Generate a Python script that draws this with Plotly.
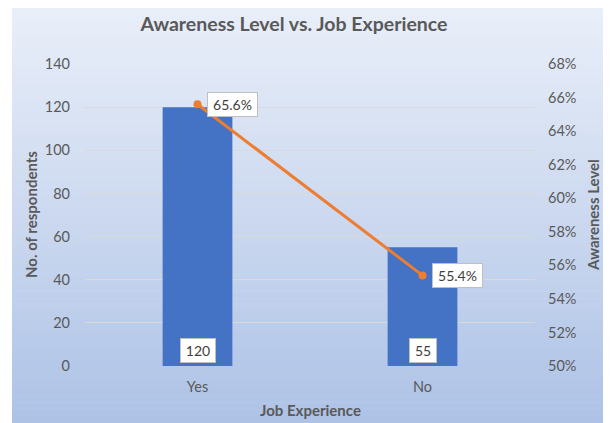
import plotly.graph_objects as go

# data
categories = ['Yes', 'No']
respondents = [120, 55]
awareness = [0.656, 0.554]

# the page body adds an 8px margin, so the figure is drawn 8px smaller
W, H = 603, 415
L, R, T, B = 77, 76, 56, 57
PW, PH = W - L - R, H - T - B

def px_x(p):
    return (p - L) / PW

def px_y(p):
    return (H - B - p) / PH

fig = go.Figure()

fig.add_trace(go.Bar(
    x=categories, y=respondents, name='No. of respondents',
    marker=dict(color='#4472C4', line=dict(width=0)),
    yaxis='y',
))

fig.add_trace(go.Scatter(
    x=categories, y=awareness, name='Awareness Level',
    mode='lines+markers',
    line=dict(color='#ED7D31', width=3),
    marker=dict(color='#ED7D31', size=8),
    yaxis='y2',
))

# vertical gradient background (Excel style)
top = (234, 239, 249)
bot = (173, 194, 230)
y0, y1 = -1, H
n = 60
shapes = []
for i in range(n):
    a = y0 + (y1 - y0) * i / n
    b = y0 + (y1 - y0) * (i + 1) / n
    t = (i + 0.5) / n
    c = tuple(round(top[k] + (bot[k] - top[k]) * t) for k in range(3))
    shapes.append(dict(
        type='rect', xref='paper', yref='paper', layer='below',
        x0=px_x(4), x1=px_x(W + 2), y0=px_y(b + 0.6), y1=px_y(a),
        fillcolor='rgb(%d,%d,%d)' % c, line=dict(width=0),
    ))

label_font = dict(family='Lato, Open Sans, sans-serif', size=14, color='#404040')
box = dict(bgcolor='white', bordercolor='#bfbfbf', borderwidth=1, borderpad=3,
           showarrow=False, font=label_font)

annotations = []
for c, v in zip(categories, awareness):
    annotations.append(dict(x=c, y=v, xref='x', yref='y2', text=f'{v*100:.1f}%',
                            xshift=35, width=43, **box))
for c, v in zip(categories, respondents):
    annotations.append(dict(x=c, y=0, xref='x', yref='y', text=str(v),
                            yshift=16, width=28 if v >= 100 else 20, **box))

title_font = dict(family='Lato, Open Sans, sans-serif', size=15, color='#595959')
axis_title = dict(xref='paper', yref='paper', xanchor='center', yanchor='middle',
                  showarrow=False, font=title_font)
annotations += [
    dict(text='<b>No. of respondents</b>', x=px_x(23), y=0.5, textangle=-90, **axis_title),
    dict(text='<b>Awareness Level</b>', x=px_x(585), y=0.5, textangle=-90, **axis_title),
    dict(text='<b>Job Experience</b>', x=px_x(302), y=px_y(402), **axis_title),
]

tick_font = dict(family='Lato, Open Sans, sans-serif', size=14.5, color='#595959')

fig.update_layout(
    width=W, height=H,
    margin=dict(l=L, r=R, t=T, b=B),
    paper_bgcolor='white',
    plot_bgcolor='rgba(0,0,0,0)',
    showlegend=False,
    bargap=0.69,
    title=dict(text='<b>Awareness Level vs. Job Experience</b>',
               x=286 / W, y=1 - 16 / H, xref='container', yref='container',
               xanchor='center', yanchor='middle',
               font=dict(family='Lato, Open Sans, sans-serif', size=19.5, color='#595959')),
    xaxis=dict(showgrid=False, showline=False, ticks='', tickfont=tick_font,
               zeroline=False, ticklabelstandoff=10),
    yaxis=dict(range=[0, 140], dtick=20, showgrid=True, gridcolor='#d9d9d9', gridwidth=1,
               zeroline=False, showline=False, tickfont=tick_font, ticklabelstandoff=14),
    yaxis2=dict(range=[0.5, 0.68], dtick=0.02, tickformat='.0%', overlaying='y', side='right',
                showgrid=False, zeroline=False, showline=False, tickfont=tick_font,
                ticklabelstandoff=12),
    shapes=shapes,
    annotations=annotations,
)

fig.write_html('out.html')
